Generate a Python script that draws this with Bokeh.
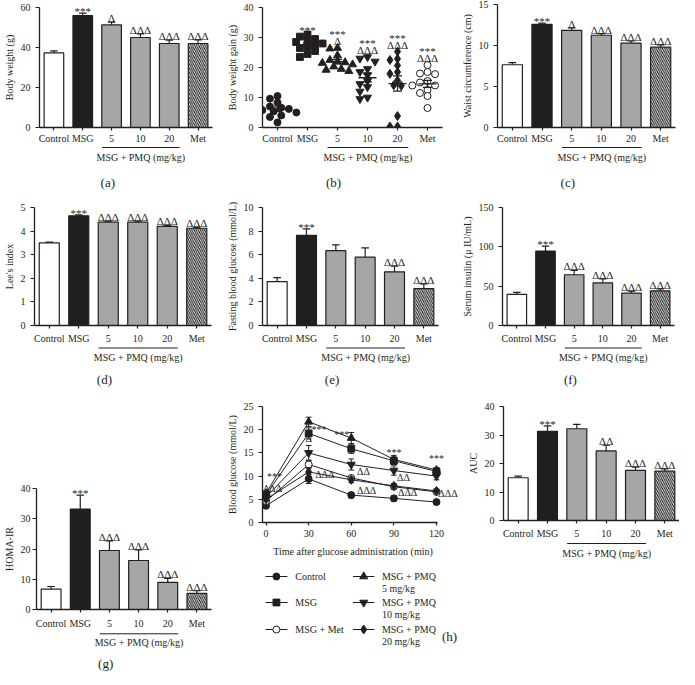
import numpy as np
from bokeh.plotting import figure
from bokeh.models import FactorRange, Range1d, FixedTicker, Label
from bokeh.models import ColumnDataSource
from bokeh.layouts import row, column
from bokeh.transform import dodge
from bokeh.core.properties import value
from bokeh.embed import file_html
from bokeh.resources import INLINE

FONT = "Liberation Serif"
INK = "#231f20"

# ---------------- data ----------------
groups = ["Control", "MSG", "5", "10", "20", "Met"]
group_label = "MSG + PMQ (mg/kg)"

body_weight_mean = [37.3, 56.0, 51.3, 45.0, 42.0, 42.0]
body_weight_sem = [1.0, 1.2, 1.4, 1.8, 1.7, 1.8]
body_weight_sig = ["", "***", "Δ", "ΔΔΔ", "ΔΔΔ", "ΔΔΔ"]

gain_control = [10.5, 9.6, 8.3, 7.0, 6.6, 6.2, 5.8, 5.4, 5.0, 4.0, 3.5, 1.7]
gain_msg = [31.0, 30.3, 29.5, 29.0, 28.5, 28.0, 27.5, 27.0, 26.5, 25.5, 24.5, 23.5]
gain_pmq5 = [26.5, 26.3, 24.0, 22.5, 22.0, 21.7, 21.5, 21.0, 20.3, 19.5, 19.2, 18.8]
gain_pmq10 = [23.5, 23.0, 22.0, 19.5, 18.5, 17.5, 15.5, 14.5, 13.5, 12.0, 10.0, 9.5]
gain_pmq20 = [25.3, 22.9, 22.5, 20.7, 18.5, 17.9, 15.7, 14.1, 13.9, 3.8, 0.3, 0.3]
gain_met = [20.8, 18.5, 18.0, 17.8, 15.5, 15.0, 14.0, 14.0, 12.5, 11.5, 10.5, 6.5]
gain_sig_lower = ["", "***", "Δ", "ΔΔΔ", "ΔΔΔ", "ΔΔΔ"]
gain_sig_upper = ["", "", "***", "***", "***", "***"]

waist_mean = [7.65, 12.57, 11.85, 11.25, 10.3, 9.8]
waist_sem = [0.25, 0.15, 0.3, 0.2, 0.25, 0.28]
waist_sig = ["", "***", "Δ", "ΔΔΔ", "ΔΔΔ", "ΔΔΔ"]

lee_mean = [3.5, 4.65, 4.38, 4.38, 4.2, 4.12]
lee_sem = [0.03, 0.04, 0.04, 0.04, 0.04, 0.04]
lee_sig = ["", "***", "ΔΔΔ", "ΔΔΔ", "ΔΔΔ", "ΔΔΔ"]

fbg_mean = [3.72, 7.64, 6.34, 5.79, 4.55, 3.12]
fbg_sem = [0.33, 0.55, 0.5, 0.78, 0.47, 0.41]
fbg_sig = ["", "***", "", "", "ΔΔΔ", "ΔΔΔ"]

insulin_mean = [39.6, 94.7, 64.5, 54.3, 41.2, 44.1]
insulin_sem = [2.4, 6.3, 5.7, 4.9, 2.5, 2.4]
insulin_sig = ["", "***", "ΔΔΔ", "ΔΔΔ", "ΔΔΔ", "ΔΔΔ"]

homa_mean = [6.75, 33.2, 19.5, 16.2, 9.0, 5.3]
homa_sem = [0.85, 4.6, 3.2, 3.5, 1.3, 0.9]
homa_sig = ["", "***", "ΔΔΔ", "ΔΔΔ", "ΔΔΔ", "ΔΔΔ"]

auc_mean = [15.0, 31.3, 32.2, 24.4, 17.6, 17.3]
auc_sem = [0.6, 1.9, 1.5, 2.0, 1.1, 0.8]
auc_sig = ["", "***", "", "ΔΔ", "ΔΔΔ", "ΔΔΔ"]

ogtt_time = [0, 30, 60, 90, 120]
ogtt_xlabel = "Time after glucose administration (min)"
ogtt_labels = ["Control", "MSG", "MSG + Met", "MSG + PMQ\n5 mg/kg", "MSG + PMQ\n10 mg/kg", "MSG + PMQ\n20 mg/kg"]
ogtt_mean = [
    [3.6, 9.4, 5.9, 5.2, 4.4],
    [6.0, 19.2, 15.9, 13.3, 11.0],
    [4.6, 12.5, 9.6, 7.7, 6.6],
    [6.3, 21.7, 18.2, 13.6, 11.3],
    [5.5, 15.0, 12.5, 11.2, 10.0],
    [5.0, 10.9, 9.2, 7.9, 6.8],
]
ogtt_sem = [
    [0.3, 1.0, 0.6, 0.6, 0.3],
    [0.4, 1.2, 1.0, 0.8, 0.5],
    [0.3, 0.9, 0.5, 0.4, 0.3],
    [0.5, 1.0, 1.2, 0.8, 0.5],
    [0.4, 1.6, 1.2, 1.0, 0.8],
    [0.4, 0.9, 0.6, 0.5, 0.4],
]
ogtt_sig_text = ["***", "ΔΔΔ", "***", "Δ", "ΔΔΔ", "***", "ΔΔ", "ΔΔΔ", "***", "ΔΔ", "ΔΔΔ", "***", "ΔΔΔ"]
ogtt_sig_time = [0.7, -2.2, 32, 30, 34.6, 58.5, 64, 64, 90, 92.2, 92.9, 120, 121.3]
ogtt_sig_level = [10.0, 7.4, 20.1, 18.2, 10.4, 19.0, 11.0, 6.9, 15.0, 9.7, 6.4, 13.8, 6.3]
ogtt_sig_align = ["left", "left", "left", "center", "left", "right", "left", "left",
                  "center", "left", "left", "center", "left"]

# ---------------- styles ----------------
bar_fill = ["#ffffff", "#1f1f1f", "#a6a6a6", "#a6a6a6", "#a6a6a6", "#ffffff"]
bar_hatch = [" ", " ", " ", " ", " ", "left_diagonal_line"]
gain_markers = ["circle", "square", "triangle", "inverted_triangle", "diamond", "circle"]
gain_fill = [INK, INK, INK, INK, INK, "#ffffff"]
ogtt_markers = ["circle", "square", "circle", "triangle", "inverted_triangle", "diamond"]
ogtt_fill = [INK, INK, "#ffffff", INK, INK, INK]
marker_size = {"circle": 7, "square": 6.8, "triangle": 8, "inverted_triangle": 8, "diamond": 9}

GROUP_SPAN = (2.17, 4.86)
CAPTION_X = 2.37


def sig_size(t):
    return "11px"


def sig_offset(t, star=-2, delta=-4):
    return star if "*" in t else delta


def style(p, ystand=5):
    p.outline_line_color = None
    p.grid.visible = False
    p.border_fill_color = "white"
    for ax in p.axis:
        ax.axis_line_color = INK
        ax.axis_line_width = 1.3
        ax.major_tick_line_color = INK
        ax.major_tick_line_width = 1.2
        ax.major_tick_in = 0
        ax.major_tick_out = 3
        ax.minor_tick_line_color = None
        ax.major_label_text_font = FONT
        ax.major_label_text_font_size = "10px"
        ax.major_label_text_color = INK
        ax.axis_label_text_font = FONT
        ax.axis_label_text_font_size = "10px"
        ax.axis_label_text_font_style = "normal"
        ax.axis_label_text_color = INK
        ax.axis_label_standoff = 3
    p.yaxis.major_tick_out = 4
    p.yaxis.major_label_standoff = ystand


def base_fig(W, H, bl, br, bt, bb, x_range, y_range):
    return figure(width=W, height=H, x_range=x_range, y_range=y_range,
                  min_border_left=bl, min_border_right=br, min_border_top=bt, min_border_bottom=bb,
                  output_backend="svg", toolbar_location=None)


def bar_figure(mean, sem, sig, ymax, yticks, ylabel, W, H, bl, br, bt, bb, xstand, ystand=5):
    p = base_fig(W, H, bl, br, bt, bb, FactorRange(factors=groups), Range1d(0, ymax))
    style(p, ystand)
    p.yaxis.ticker = FixedTicker(ticks=yticks)
    p.yaxis.axis_label = ylabel
    p.xaxis.major_label_standoff = xstand
    err = [m + s for m, s in zip(mean, sem)]
    src = ColumnDataSource(dict(g=groups, m=mean, e=err, fill=bar_fill, hatch=bar_hatch,
                                sig=sig, fs=[sig_size(t) for t in sig],
                                yo=[sig_offset(t) for t in sig]))
    p.vbar(x="g", top="m", width=0.68, source=src, fill_color="fill", line_color=INK,
           line_width=1.2, hatch_pattern="hatch", hatch_color=INK, hatch_scale=4.2, hatch_weight=1.1)
    p.segment(x0="g", y0="m", x1="g", y1="e", source=src, line_color=INK, line_width=1.2)
    p.segment(x0=dodge("g", -0.13, range=p.x_range), y0="e",
              x1=dodge("g", 0.13, range=p.x_range), y1="e", source=src, line_color=INK, line_width=1.2)
    p.text(x="g", y="e", text="sig", source=src, text_align="center", text_baseline="alphabetic",
           y_offset="yo", text_font=value(FONT), text_font_size="fs", text_color=INK)
    return p


def swarm(vals, ppu, ppc, d=6.0, step=3.8):
    order = np.argsort(vals)[::-1]
    placed, offs = [], np.zeros(len(vals))
    cands = [0, -1, 1, -2, 2, -3, 3, -4, 4, -5, 5]
    for idx in order:
        y = vals[idx] * ppu
        x = 0.0
        for k in cands:
            x = k * step
            if all((x - px) ** 2 + (y - py) ** 2 >= d ** 2 for px, py in placed):
                break
        placed.append((x, y))
        offs[idx] = x / ppc
    return offs


def gain_figure(W, H, bl, br, bt, bb, xstand):
    p = base_fig(W, H, bl, br, bt, bb, FactorRange(factors=groups), Range1d(0, 40))
    style(p)
    p.yaxis.ticker = FixedTicker(ticks=[0, 10, 20, 30, 40])
    p.yaxis.axis_label = "Body weight gain (g)"
    p.xaxis.major_label_standoff = xstand
    ppu = (H - bt - bb) / 40.0
    ppc = (W - bl - br) / 6.0
    all_vals = [gain_control, gain_msg, gain_pmq5, gain_pmq10, gain_pmq20, gain_met]
    for i, vals in enumerate(all_vals):
        v = np.array(vals)
        c = i + 0.5
        offs = swarm(v, ppu, ppc)
        mk = gain_markers[i]
        p.scatter(list(c + offs), list(v), marker=mk, size=marker_size[mk],
                  fill_color=gain_fill[i], line_color=INK, line_width=1)
        m = v.mean()
        s = v.std(ddof=1) / np.sqrt(len(v))
        p.segment([c - 0.3], [m], [c + 0.3], [m], line_color=INK, line_width=1.3)
        p.segment([c], [m - s], [c], [m + s], line_color=INK, line_width=1.2)
        p.segment([c - 0.15, c - 0.15], [m - s, m + s], [c + 0.15, c + 0.15], [m - s, m + s],
                  line_color=INK, line_width=1.2)
        top = v.max()
        lower, upper = gain_sig_lower[i], gain_sig_upper[i]
        if lower:
            p.text([c], [top], text=[lower], text_align="center", text_baseline="alphabetic",
                   y_offset=sig_offset(lower, -5, -7), text_font=value(FONT),
                   text_font_size=sig_size(lower), text_color=INK)
        if upper:
            p.text([c], [top], text=[upper], text_align="center", text_baseline="alphabetic",
                   y_offset=-14, text_font=value(FONT), text_font_size=sig_size(upper),
                   text_color=INK)
    return p


def cap_figure(W, H, bl, br, y_line, y_group, caption=None, y_caption=None):
    c = figure(width=W, height=H, x_range=Range1d(0, 6), y_range=Range1d(H, 0),
               min_border_left=bl, min_border_right=br, min_border_top=0, min_border_bottom=0,
               x_axis_location=None, y_axis_location=None,
               output_backend="svg", toolbar_location=None)
    c.outline_line_color = None
    c.grid.visible = False
    c.segment([GROUP_SPAN[0]], [y_line], [GROUP_SPAN[1]], [y_line], line_color=INK, line_width=1)
    c.text([sum(GROUP_SPAN) / 2], [y_group], text=[group_label], text_align="center",
           text_baseline="middle", text_font=value(FONT), text_font_size="10px", text_color=INK)
    if caption:
        c.text([CAPTION_X], [y_caption], text=[caption], text_align="center",
               text_baseline="middle", text_font=value(FONT), text_font_size="13px", text_color=INK)
    return c


# ---------------- row 1 ----------------
a = bar_figure(body_weight_mean, body_weight_sem, body_weight_sig, 60, [0, 20, 40, 60],
               "Body weight (g)", 223, 146, 33, 11, 7, 18, 2)
a_cap = cap_figure(223, 48, 33, 11, 1, 11, "(a)", 35.5)
b = gain_figure(235, 146, 38, 16, 7, 18, 2)
b_cap = cap_figure(235, 48, 38, 16, 1, 11, "(b)", 35.5)
c = bar_figure(waist_mean, waist_sem, waist_sig, 15, [0, 5, 10, 15],
               "Waist circumference (cm)", 221, 146, 35, 4, 4, 18, 2)
c_cap = cap_figure(221, 48, 35, 4, 1, 11, "(c)", 35.5)

# ---------------- row 2 ----------------
d = bar_figure(lee_mean, lee_sem, lee_sig, 5, [0, 1, 2, 3, 4, 5],
               "Lee's index", 223, 152, 34, 12, 13, 20, 4)
d_cap = cap_figure(223, 48, 34, 12, 1.5, 10.5, "(d)", 33)
e = bar_figure(fbg_mean, fbg_sem, fbg_sig, 10, [0, 2, 4, 6, 8, 10],
               "Fasting blood glucose (mmol/L)", 235, 152, 36, 20, 13, 20, 4)
e_cap = cap_figure(235, 48, 36, 20, 1.5, 10.5, "(e)", 33)
f = bar_figure(insulin_mean, insulin_sem, insulin_sig, 150, [0, 50, 100, 150],
               "Serum insulin (μ IU/mL)", 221, 152, 38, 5, 13, 20, 4)
f_cap = cap_figure(221, 48, 38, 5, 1.5, 10.5, "(f)", 33)

# ---------------- row 3 ----------------
g = bar_figure(homa_mean, homa_sem, homa_sig, 40, [0, 10, 20, 30, 40],
               "HOMA-IR", 223, 237, 31, 12, 94, 21, 5, ystand=2)
g_cap = cap_figure(223, 40, 31, 12, 2.3, 10.7, "(g)", 32.3)

HW, HBL = 235, 38
h = base_fig(HW, 148, HBL, 0, 12, 20, Range1d(-2.5, 135.5), Range1d(0, 25))
style(h)
h.xaxis.ticker = FixedTicker(ticks=ogtt_time)
h.xaxis.bounds = (-2.5, 121)
h.yaxis.ticker = FixedTicker(ticks=[0, 5, 10, 15, 20, 25])
h.yaxis.axis_label = "Blood glucose (mmol/L)"
h.xaxis.major_label_standoff = 4
for vals, sems, mk, fc in zip(ogtt_mean, ogtt_sem, ogtt_markers, ogtt_fill):
    lo = [v - s for v, s in zip(vals, sems)]
    hi = [v + s for v, s in zip(vals, sems)]
    h.line(ogtt_time, vals, line_color=INK, line_width=1)
    h.segment(ogtt_time, lo, ogtt_time, hi, line_color=INK, line_width=1)
    h.segment([t - 2 for t in ogtt_time], hi, [t + 2 for t in ogtt_time], hi, line_color=INK, line_width=1)
    h.segment([t - 2 for t in ogtt_time], lo, [t + 2 for t in ogtt_time], lo, line_color=INK, line_width=1)
    h.scatter(ogtt_time, vals, marker=mk, size=marker_size[mk], fill_color=fc,
              line_color=INK, line_width=1)
for txt, xx, yy, al in zip(ogtt_sig_text, ogtt_sig_time, ogtt_sig_level, ogtt_sig_align):
    h.add_layout(Label(x=xx, y=yy, text=txt, text_align=al, text_baseline="middle",
                       text_font=FONT, text_font_size="10px", text_color=INK))

# legend panel below (h): coordinates are pixels inside this small panel
LH = 129
leg = figure(width=HW, height=LH, x_range=Range1d(HBL, HW), y_range=Range1d(LH, 0),
             min_border_left=HBL, min_border_right=0, min_border_top=0, min_border_bottom=0,
             x_axis_location=None, y_axis_location=None, output_backend="svg", toolbar_location=None)
leg.outline_line_color = None
leg.grid.visible = False
leg.text([129], [9], text=[ogtt_xlabel], text_align="center", text_baseline="middle",
         text_font=value(FONT), text_font_size="10px", text_color=INK)
leg_cols = [(41, 63, 71), (41, 63, 71), (41, 63, 71), (129, 150.5, 158), (129, 150.5, 158), (129, 150.5, 158)]
leg_rows = [34, 60, 87, 34, 60, 87]
for lab, mk, fc, (x0, x1, tx), yy in zip(ogtt_labels, ogtt_markers, ogtt_fill, leg_cols, leg_rows):
    leg.segment([x0], [yy], [x1], [yy], line_color=INK, line_width=1)
    leg.scatter([(x0 + x1) / 2], [yy], marker=mk, size=marker_size[mk], fill_color=fc,
                line_color=INK, line_width=1)
    for k, part in enumerate(lab.split("\n")):
        leg.text([tx], [yy + 11.5 * k], text=[part], text_align="left", text_baseline="middle",
                 text_font=value(FONT), text_font_size="10px", text_color=INK)
leg.text([226], [94], text=["(h)"], text_align="center", text_baseline="middle",
         text_font=value(FONT), text_font_size="13px", text_color=INK)

auc = bar_figure(auc_mean, auc_sem, auc_sig, 40, [0, 10, 20, 30, 40],
                 "AUC", 221, 147, 45, 0, 12, 19, 4)
auc_cap = cap_figure(221, 130, 45, 0, 2, 12)

layout = column(
    row(column(a, a_cap), column(b, b_cap), column(c, c_cap)),
    row(column(d, d_cap), column(e, e_cap), column(f, f_cap)),
    row(column(g, g_cap), column(h, leg), column(auc, auc_cap)),
)

open("out.html", "w").write(file_html(layout, INLINE, title="MSG PMQ panels"))
